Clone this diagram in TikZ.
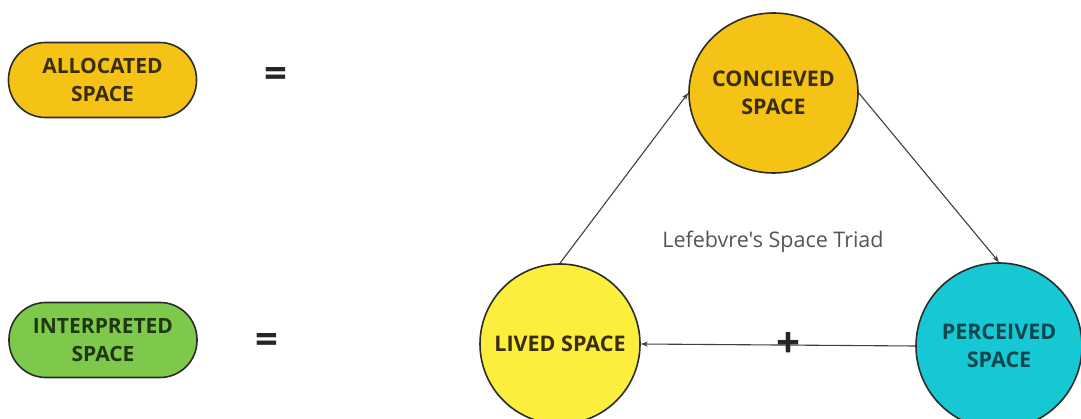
\documentclass[tikz,border=0pt]{standalone}
\usepackage{fontspec}
\setmainfont{Open Sans}
\newfontfamily\plainfont{Open Sans}
\usetikzlibrary{shapes.geometric,arrows.meta}
\definecolor{gold}{HTML}{F5C316}
\definecolor{lyellow}{HTML}{FBEE3C}
\definecolor{cyanf}{HTML}{16C7D4}
\definecolor{greenf}{HTML}{7EC94B}
\definecolor{edge}{HTML}{2B2B2B}
\definecolor{tbrown}{HTML}{3A2D0C}
\definecolor{tgreen}{HTML}{1F3812}
\definecolor{tteal}{HTML}{0F4650}
\definecolor{tgray}{HTML}{555555}
\tikzset{
  pill/.style={draw=edge, line width=1.6pt, rounded corners=37pt, minimum width=188pt, minimum height=75pt, inner sep=0pt, align=center, font=\bfseries\fontsize{21}{28}\selectfont},
  spacenode/.style={ellipse, draw=edge, line width=1.6pt, inner sep=0pt, align=center, font=\bfseries\fontsize{21.5}{28.5}\selectfont},
  conn/.style={draw=edge!90, line width=1.1pt, -{Stealth[length=7pt,width=5pt]}},
  eqsign/.style={font=\bfseries\fontsize{40}{40}\selectfont, text=black!85, inner sep=0pt},
}
\begin{document}
\begin{tikzpicture}[x=1pt,y=-1pt]
\useasboundingbox[fill=white] (0,0) rectangle (1081,419);
% legend
\node[pill, fill=gold, text=tbrown] (alloc) at (102.5,80) {ALLOCATED\\SPACE};
\node[eqsign] (eq1) at (276,78) {=};
\node[pill, fill=greenf, text=tgreen] (interp) at (103,340) {INTERPRETED\\SPACE};
\node[eqsign] (eq2) at (267,343) {=};
% triad
\node[spacenode, fill=gold, text=tbrown, minimum width=169pt, minimum height=160pt] (conc) at (773.5,93) {\makebox[0pt]{CONCIEVED}\\\makebox[0pt]{SPACE}};
\node[spacenode, fill=lyellow, text=tbrown, minimum width=160pt, minimum height=160pt] (lived) at (560,344) {\makebox[0pt]{LIVED SPACE}};
\node[spacenode, fill=cyanf, text=tteal, minimum width=166pt, minimum height=166pt] (perc) at (999,346) {\makebox[0pt]{PERCEIVED}\\\makebox[0pt]{SPACE}};
\node[font=\plainfont\fontsize{21.5}{24}\selectfont, text=tgray] (title) at (773,242) {Lefebvre's Space Triad};
\draw[conn] (lived.north) -- (conc.west);
\draw[conn] (conc.east) -- (perc.north);
\draw[conn] (perc.west) -- node[pos=0.46, font=\bfseries\fontsize{42}{42}\selectfont, text=black!85, inner sep=0pt] (plus) {+} (lived.east);
\end{tikzpicture}
\end{document}
